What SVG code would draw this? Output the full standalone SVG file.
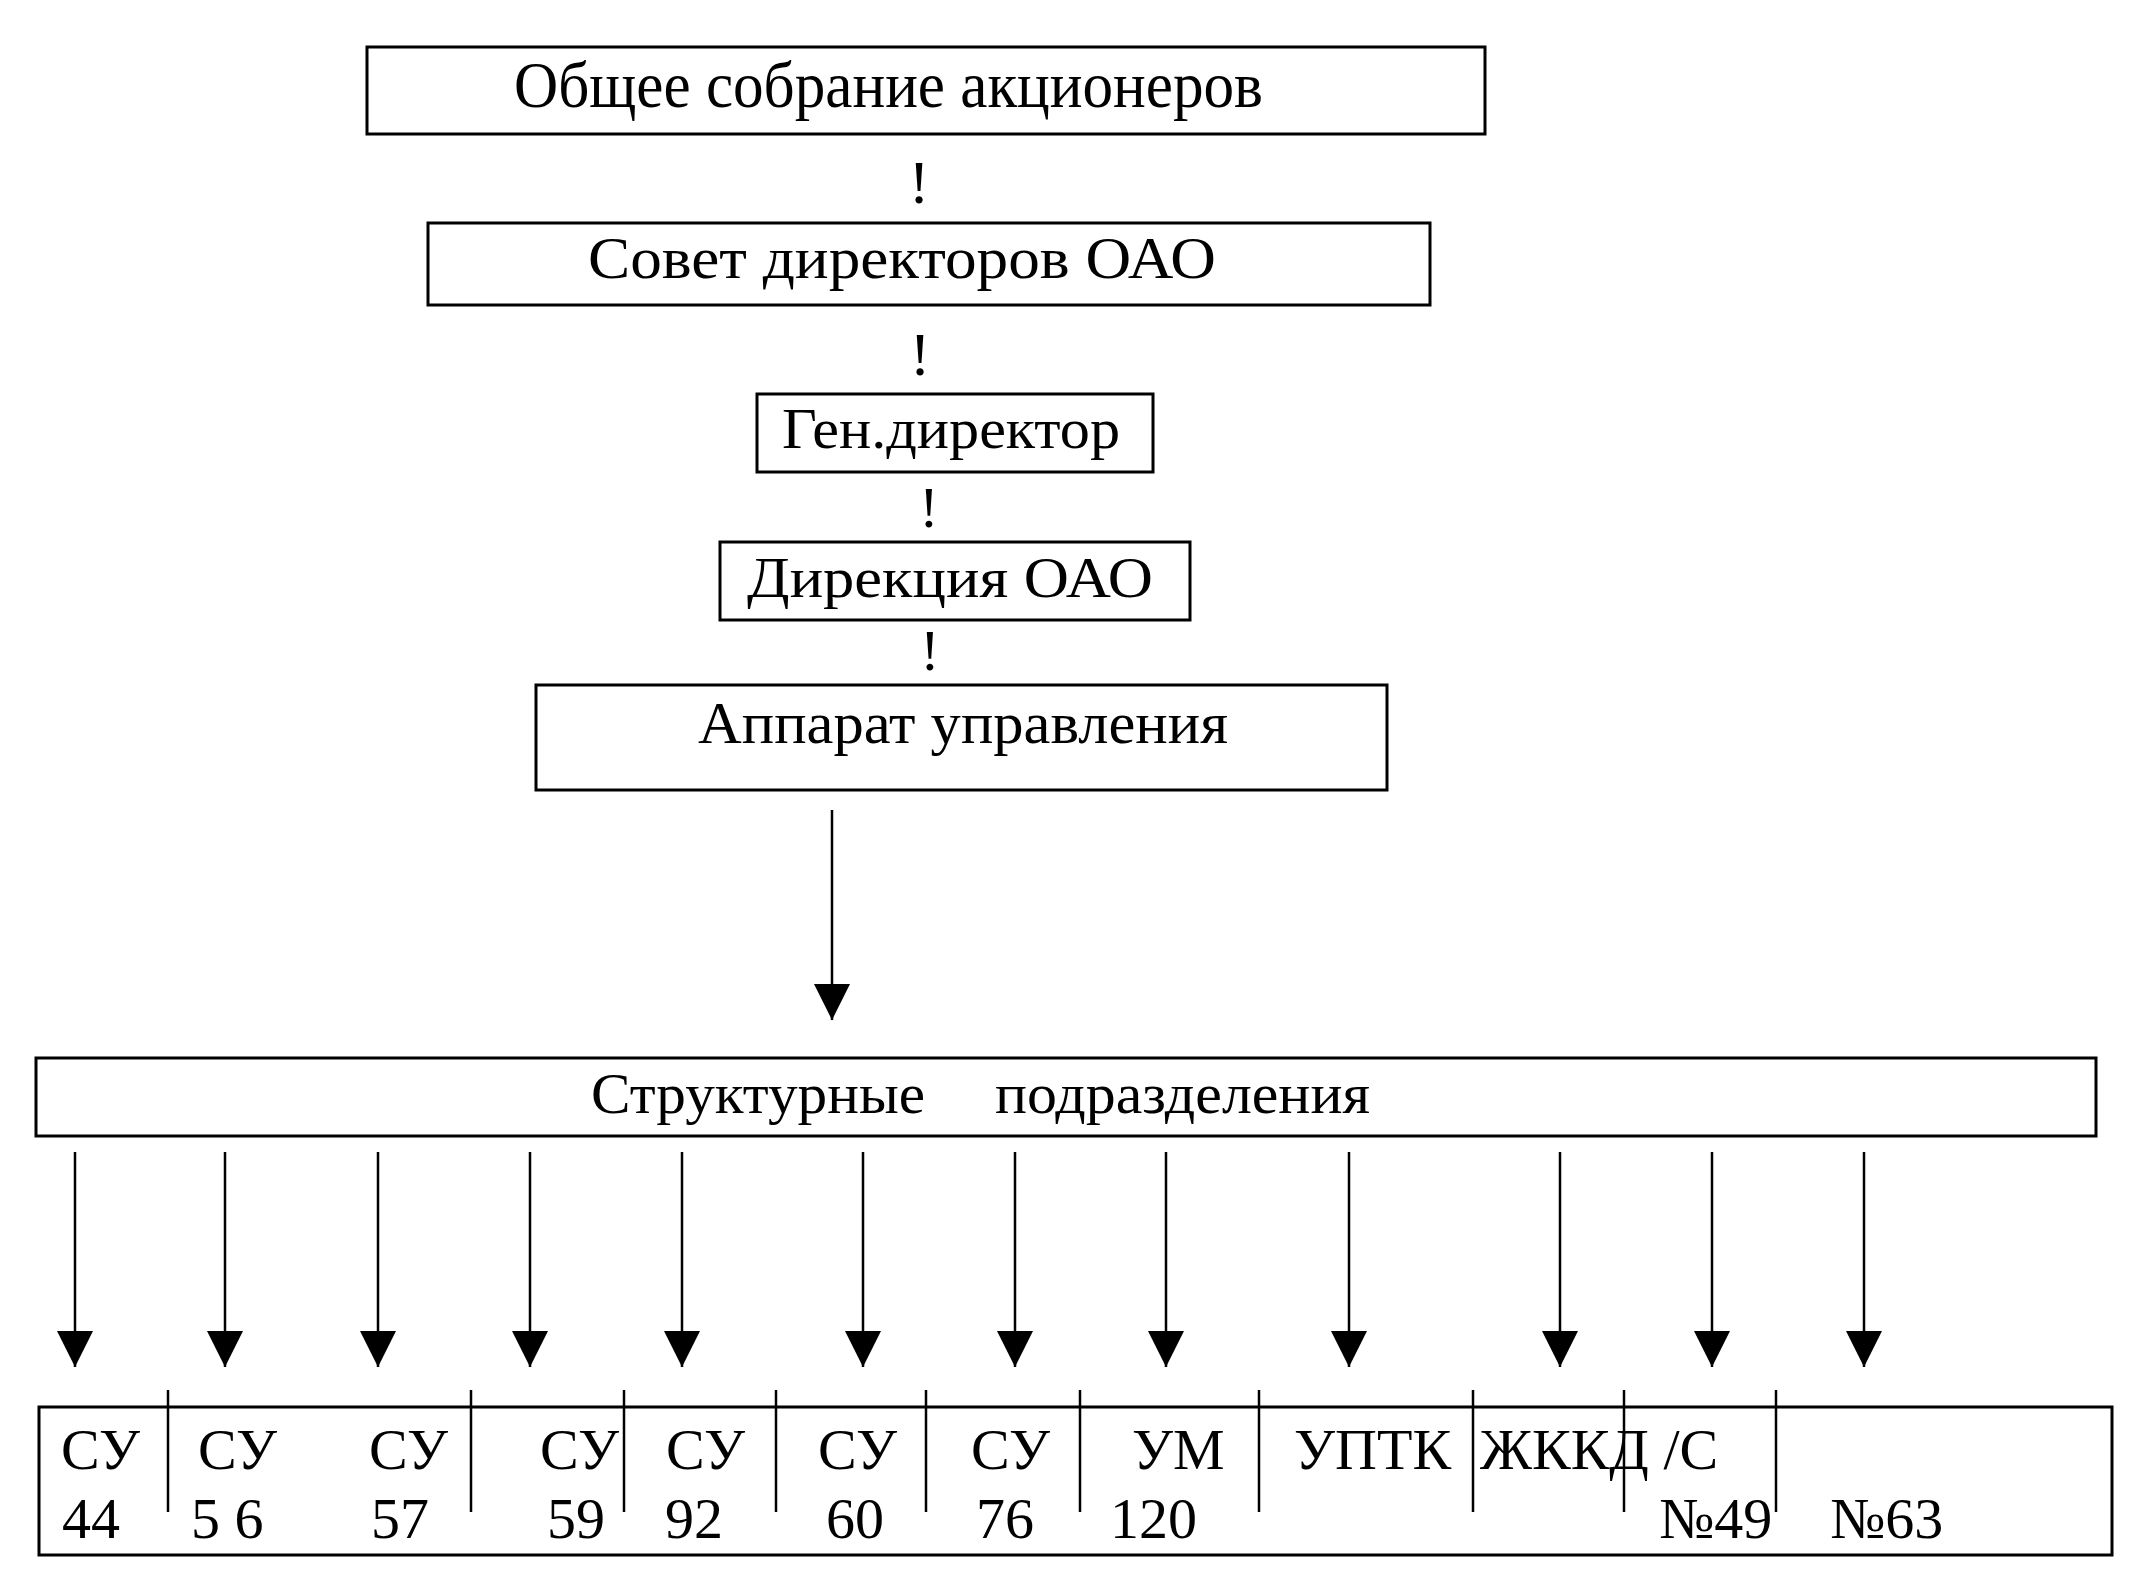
<svg xmlns="http://www.w3.org/2000/svg" width="2146" height="1578" viewBox="0 0 2146 1578">
<style>
.box{fill:#fff;stroke:#000;stroke-width:3}
.t{font-family:"Liberation Serif","Times New Roman",serif;fill:#000}
.ln{stroke:#000;stroke-width:2.5;fill:none}
.dv{stroke:#000;stroke-width:2.5}
</style>
<defs>
<marker id="ah" markerUnits="userSpaceOnUse" markerWidth="40" markerHeight="38" refX="36" refY="18" orient="auto" viewBox="0 0 40 38">
<path d="M0,0 L36,18 L0,36 Z" fill="#000"/>
</marker>
</defs>
<rect width="2146" height="1578" fill="#fff"/>
<g id="connectors">
<text class="t" x="919" y="203" font-size="62" text-anchor="middle">!</text>
<text class="t" x="920" y="375" font-size="62" text-anchor="middle">!</text>
<text class="t" x="929" y="527" font-size="58" text-anchor="middle">!</text>
<text class="t" x="930" y="670" font-size="58" text-anchor="middle">!</text>
<line class="ln" x1="832" y1="810" x2="832" y2="1020" marker-end="url(#ah)"/>
<line class="ln" x1="75" y1="1152" x2="75" y2="1367" marker-end="url(#ah)"/>
<line class="ln" x1="225" y1="1152" x2="225" y2="1367" marker-end="url(#ah)"/>
<line class="ln" x1="378" y1="1152" x2="378" y2="1367" marker-end="url(#ah)"/>
<line class="ln" x1="530" y1="1152" x2="530" y2="1367" marker-end="url(#ah)"/>
<line class="ln" x1="682" y1="1152" x2="682" y2="1367" marker-end="url(#ah)"/>
<line class="ln" x1="863" y1="1152" x2="863" y2="1367" marker-end="url(#ah)"/>
<line class="ln" x1="1015" y1="1152" x2="1015" y2="1367" marker-end="url(#ah)"/>
<line class="ln" x1="1166" y1="1152" x2="1166" y2="1367" marker-end="url(#ah)"/>
<line class="ln" x1="1349" y1="1152" x2="1349" y2="1367" marker-end="url(#ah)"/>
<line class="ln" x1="1560" y1="1152" x2="1560" y2="1367" marker-end="url(#ah)"/>
<line class="ln" x1="1712" y1="1152" x2="1712" y2="1367" marker-end="url(#ah)"/>
<line class="ln" x1="1864" y1="1152" x2="1864" y2="1367" marker-end="url(#ah)"/>
</g>
<g id="node-obshchee">
<rect class="box" x="367" y="47" width="1118" height="87"/>
<text class="t" x="514" y="107" font-size="66" textLength="749" lengthAdjust="spacingAndGlyphs">Общее  собрание  акционеров</text>
</g>
<g id="node-sovet">
<rect class="box" x="428" y="223" width="1002" height="82"/>
<text class="t" x="588" y="278" font-size="60" textLength="628" lengthAdjust="spacingAndGlyphs">Совет  директоров  ОАО</text>
</g>
<g id="node-gendir">
<rect class="box" x="757" y="394" width="396" height="78"/>
<text class="t" x="782" y="448" font-size="56" textLength="338" lengthAdjust="spacingAndGlyphs">Ген.директор</text>
</g>
<g id="node-direkciya">
<rect class="box" x="720" y="542" width="470" height="78"/>
<text class="t" x="747" y="597" font-size="58" textLength="406" lengthAdjust="spacingAndGlyphs">Дирекция  ОАО</text>
</g>
<g id="node-apparat">
<rect class="box" x="536" y="685" width="851" height="105"/>
<text class="t" x="698" y="743" font-size="60" textLength="530" lengthAdjust="spacingAndGlyphs">Аппарат  управления</text>
</g>
<g id="node-struktur">
<rect class="box" x="36" y="1058" width="2060" height="78"/>
<text class="t" x="591" y="1113" font-size="56" textLength="334" lengthAdjust="spacingAndGlyphs">Структурные</text>
<text class="t" x="995" y="1113" font-size="56" textLength="375" lengthAdjust="spacingAndGlyphs">подразделения</text>
</g>
<g id="node-units">
<rect class="box" x="39" y="1407" width="2073" height="148"/>
<line class="dv" x1="168" y1="1390" x2="168" y2="1512"/>
<line class="dv" x1="471" y1="1390" x2="471" y2="1512"/>
<line class="dv" x1="624" y1="1390" x2="624" y2="1512"/>
<line class="dv" x1="776" y1="1390" x2="776" y2="1512"/>
<line class="dv" x1="926" y1="1390" x2="926" y2="1512"/>
<line class="dv" x1="1080" y1="1390" x2="1080" y2="1512"/>
<line class="dv" x1="1259" y1="1390" x2="1259" y2="1512"/>
<line class="dv" x1="1473" y1="1390" x2="1473" y2="1512"/>
<line class="dv" x1="1624" y1="1390" x2="1624" y2="1512"/>
<line class="dv" x1="1776" y1="1390" x2="1776" y2="1512"/>
<g class="t" font-size="58">
<text x="61" y="1469">СУ</text>
<text x="62" y="1538">44</text>
<text x="198" y="1469">СУ</text>
<text x="191" y="1538">5 6</text>
<text x="369" y="1469">СУ</text>
<text x="371" y="1538">57</text>
<text x="540" y="1469">СУ</text>
<text x="547" y="1538">59</text>
<text x="666" y="1469">СУ</text>
<text x="665" y="1538">92</text>
<text x="818" y="1469">СУ</text>
<text x="826" y="1538">60</text>
<text x="971" y="1469">СУ</text>
<text x="976" y="1538">76</text>
<text x="1132" y="1469">УМ</text>
<text x="1110" y="1538">120</text>
<text x="1294" y="1469">УПТК</text>
<text x="1480" y="1469">ЖККД /С</text>
<text x="1659" y="1538">№49</text>
<text x="1830" y="1538">№63</text>
</g>
</g>
</svg>
